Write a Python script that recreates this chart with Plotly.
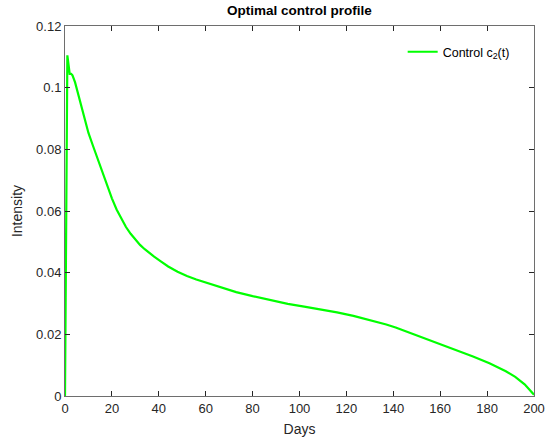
import plotly.graph_objects as go

# Optimal control c2(t) over the 200-day horizon
days = [0, 0.3, 1.0, 1.5, 2.0, 2.6, 3.2, 4.3, 5.3, 6.4, 7.4, 8.5, 10, 12, 14,
        16, 18, 20, 22, 24, 26, 28, 30, 32, 34, 36, 38, 41, 44, 48, 52, 56,
        60, 66, 73, 80, 88, 95, 102, 109, 116, 123, 130, 137, 141, 148, 155,
        160, 168, 174, 181, 188, 192, 196, 200]
control_c2 = [0.0, 0.035, 0.1105, 0.1075, 0.1045, 0.1045, 0.1040, 0.1017,
              0.0988, 0.0957, 0.0925, 0.0893, 0.0853, 0.0810, 0.0767, 0.0722,
              0.0680, 0.0641, 0.0605, 0.0574, 0.0548, 0.0526, 0.0507, 0.0490,
              0.0476, 0.0463, 0.0452, 0.0436, 0.0420, 0.0403, 0.0389, 0.0378,
              0.0368, 0.0353, 0.0337, 0.0324, 0.0310, 0.0299, 0.0290, 0.0281,
              0.0271, 0.0260, 0.0247, 0.0232, 0.0222, 0.0202, 0.0182, 0.0168,
              0.0146, 0.0128, 0.0106, 0.0080, 0.0062, 0.0038, 0.0004]

x_ticks = [0, 20, 40, 60, 80, 100, 120, 140, 160, 180, 200]
y_ticks = [0, 0.02, 0.04, 0.06, 0.08, 0.1, 0.12]
y_tick_text = ["0", "0.02", "0.04", "0.06", "0.08", "0.1", "0.12"]

axis_color = "#262626"
line_color = "#6e6e6e"
font_family = "Liberation Sans, Arial, Helvetica, sans-serif"

fig = go.Figure()
fig.add_trace(go.Scatter(
    x=days, y=control_c2, mode="lines",
    name="Control c<sub>2</sub>(t)",
    line=dict(color="#00ff00", width=2.2),
))

common_axis = dict(
    showgrid=False, zeroline=False, showline=True, linecolor=line_color,
    linewidth=1, mirror="ticks", ticks="inside", ticklen=5, tickwidth=1,
    tickcolor=axis_color, tickfont=dict(size=13, color=axis_color),
    automargin=False,
)

fig.update_layout(
    width=545, height=442,
    margin=dict(l=65, r=11, t=26, b=46),
    paper_bgcolor="white", plot_bgcolor="white",
    font=dict(family=font_family, color=axis_color),
    title=dict(text="<b>Optimal control profile</b>", x=0.5, xref="paper",
               xanchor="center", y=1 - 10 / 442, yanchor="middle",
               font=dict(size=13.5, color="black")),
    xaxis=dict(range=[0, 200], tickvals=x_ticks,
               title=dict(text="Days", font=dict(size=14), standoff=9),
               **common_axis),
    yaxis=dict(range=[0, 0.12], tickvals=y_ticks, ticktext=y_tick_text,
               title=dict(text="Intensity", font=dict(size=14), standoff=10),
               **common_axis),
    legend=dict(x=0.72, y=0.97, xanchor="left", yanchor="top",
                bgcolor="rgba(255,255,255,0)", borderwidth=0,
                font=dict(size=12.5, color="black")),
    showlegend=True,
)

fig.write_html("out.html")
